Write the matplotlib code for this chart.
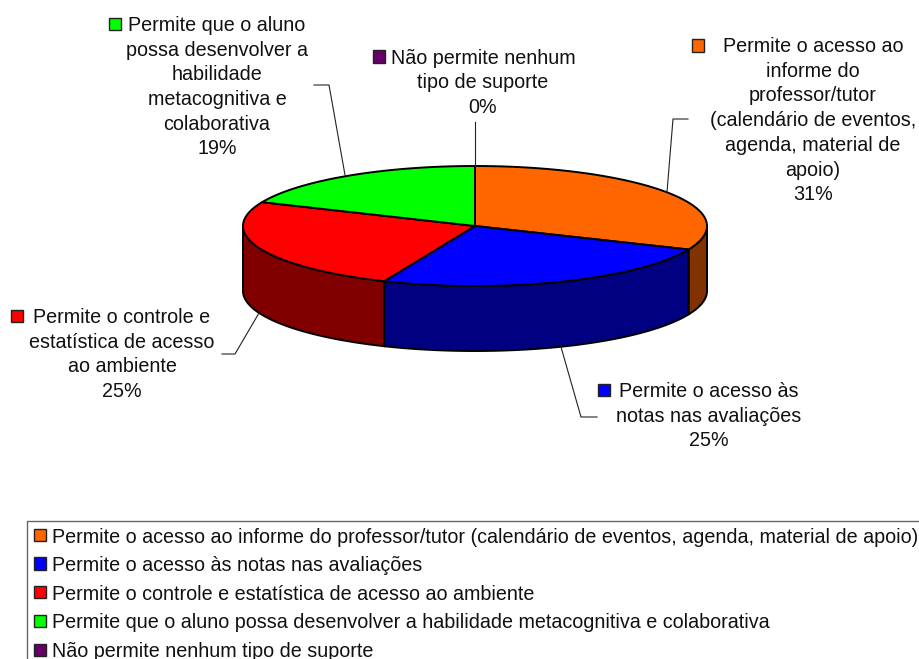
# -*- coding: utf-8 -*-
import numpy as np
import matplotlib
matplotlib.use('Agg')
import matplotlib.pyplot as plt
from matplotlib.patches import Rectangle

plt.rcParams['font.family'] = ['Liberation Sans', 'DejaVu Sans']

categorias = ['Permite o acesso ao informe do professor/tutor (calendário de eventos, agenda, material de apoio)',
              'Permite o acesso às notas nas avaliações',
              'Permite o controle e estatística de acesso ao ambiente',
              'Permite que o aluno possa desenvolver a habilidade metacognitiva e colaborativa',
              'Não permite nenhum tipo de suporte']
valores = [31.4, 25, 25.1, 18.5, 0]
cores = ['#ff6600', '#0000ff', '#ff0000', '#00ff00', '#660066']
cores_lado = ['#803300', '#000080', '#800000', '#008000', '#330033']

# rotulos: texto quebrado como no grafico
rotulos = ['Permite o acesso ao\ninforme do\nprofessor/tutor\n(calendário de eventos,\nagenda, material de\napoio)\n31%',
           'Permite o acesso às\nnotas nas avaliações\n25%',
           'Permite o controle e\nestatística de acesso\nao ambiente\n25%',
           'Permite que o aluno\npossa desenvolver a\nhabilidade\nmetacognitiva e\ncolaborativa\n19%',
           'Não permite nenhum\ntipo de suporte\n0%']
rot_pos = [(813, 37), (709, 382), (122, 308), (217, 16), (483, 48.5)]
rot_marca = [(698, 45.5), (604, 390), (17, 316), (115, 24), (379, 56.5)]
guias = [[(688, 119), (673, 119), (667, 192)],
         [(597, 417), (581, 417), (561, 347)],
         [(222, 354), (235, 354), (259, 313)],
         [(314, 85), (329, 85), (345, 175)],
         [(475, 122), (475, 166)]]

cx, cy, rx, ry, prof = 475, 226, 232, 60, 65

fig = plt.figure(figsize=(9.2, 6.59), dpi=100)
ax = fig.add_axes([0, 0, 1, 1])
ax.set_xlim(0, 920)
ax.set_ylim(659, 0)
ax.axis('off')


def ponto(t):
    return cx + rx * np.cos(t), cy - ry * np.sin(t)


# angulos das fatias, sentido horario a partir do topo
acum = np.cumsum([0] + valores) / sum(valores)
ang = np.pi / 2 - 2 * np.pi * acum

# lateral
for i in range(len(valores)):
    a, b = ang[i], ang[i + 1]
    # parte visivel: seno negativo
    a2 = min(a, 0)
    b2 = max(b, -np.pi)
    if a2 <= b2:
        continue
    t = np.linspace(a2, b2, 80)
    x, y = ponto(t)
    ax.fill(np.r_[x, x[::-1]], np.r_[y, y[::-1] + prof], fc=cores_lado[i], ec='black', lw=1.4, zorder=2)

# topo
for i in range(len(valores)):
    if valores[i] == 0:
        continue
    t = np.linspace(ang[i], ang[i + 1], 120)
    x, y = ponto(t)
    ax.fill(np.r_[cx, x], np.r_[cy, y], fc=cores[i], ec='black', lw=1.4, joinstyle='round', zorder=3)

# linha da fatia de 0%
x0, y0 = ponto(ang[-1])
ax.plot([cx, x0], [cy, y0], color='black', lw=1.4, zorder=4)

# rotulos
for i in range(len(rotulos)):
    ax.text(rot_pos[i][0], rot_pos[i][1], rotulos[i], ha='center', va='top', fontsize=14.2,
            linespacing=1.38, color='#111111')
    mx, my = rot_marca[i]
    ax.add_patch(Rectangle((mx - 6.25, my - 6.25), 12.5, 12.5, fc=cores[i], ec='#222222', lw=1))
    g = np.array(guias[i])
    ax.plot(g[:, 0], g[:, 1], color='#222222', lw=0.8, zorder=5)

# legenda
ax.plot([919, 27.5, 27.5], [520.5, 520.5, 659], color='#666666', lw=1)
leg_marca = [535, 563.5, 592, 621, 650]
leg_base = [543, 571, 600, 628, 657]
for i in range(len(categorias)):
    ax.add_patch(Rectangle((34, leg_marca[i] - 6.25), 12.5, 12.5, fc=cores[i], ec='#222222', lw=1))
    ax.text(52, leg_base[i], categorias[i], ha='left', va='baseline', fontsize=14.2, color='#111111')

fig.savefig('out.png', dpi=100)
